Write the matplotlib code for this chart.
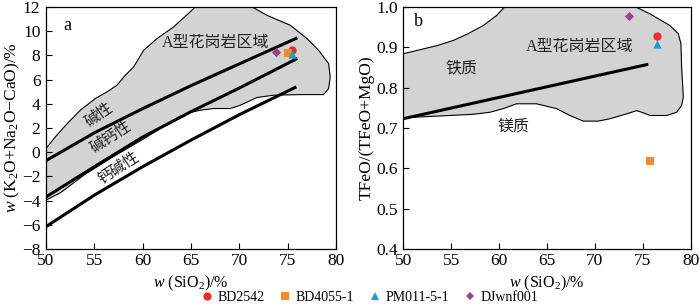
import matplotlib
matplotlib.use("Agg")
import matplotlib.pyplot as plt
from matplotlib.patches import Polygon
from matplotlib.lines import Line2D
import matplotlib.ticker as mticker

plt.rcParams['font.family'] = ['Liberation Serif', 'Noto Sans CJK SC']
plt.rcParams['mathtext.fontset'] = 'custom'
plt.rcParams['mathtext.rm'] = 'Liberation Serif'
plt.rcParams['mathtext.it'] = 'Liberation Serif:italic'
plt.rcParams['axes.unicode_minus'] = True

# ---- data ----
samples = ['BD2542', 'BD4055-1', 'PM011-5-1', 'DJwnf001']
colors = ['#e8312b', '#f28a2e', '#1d9bd8', '#9c4488']
markers = ['o', 's', '^', 'D']

# panel a
sio2_a = [75.5, 75.03, 75.5, 73.79]
mali_a = [8.42, 8.23, 8.15, 8.28]
# panel b
sio2_b = [76.51, 75.76, 76.51, 73.59]
fe_b = [0.928, 0.617, 0.909, 0.978]

# A-type granite field (panel a)
fieldA_x = [50, 50.97, 52.2, 53.55, 55.1, 56.3, 57.34, 58.2, 59.07, 60.1, 61.48, 63.2,
            64.9, 65.97, 70.45, 72.86, 75.28, 77.0, 78.2, 79.24, 79.4, 79.24, 78.7,
            76.3, 73.55, 71.83, 70.1, 69.07, 67.34, 65.97, 64.76, 63.6, 62.0,
            60.0, 57.0, 54.0, 51.5, 50]
fieldA_y = [0.31, 1.27, 2.37, 3.47, 4.43, 4.98, 5.53, 6.36, 7.05, 8.42, 9.39, 10.35,
            11.59, 12.4, 12.4, 11.31, 10.49, 9.39, 8.42, 7.32, 6.22, 5.26, 4.76,
            4.76, 4.71, 4.52, 3.88, 3.61, 3.61, 3.47, 3.25, 2.85, 2.05,
            1.05, -0.35, -1.85, -3.35, -3.96]

# MALI boundary curves
line1_x = [50, 55, 60, 65, 70, 76]
line1_y = [-0.7, 1.6, 3.6, 5.5, 7.3, 9.45]
line2_x = [50, 55, 60, 65, 70, 76]
line2_y = [-3.7, -1.2, 1.25, 3.35, 5.3, 7.75]
line3_x = [50, 55, 60, 65, 70, 75.9]
line3_y = [-6.15, -3.55, -1.2, 1.0, 3.1, 5.4]

# A-type granite field (panel b)
fieldB_x = [50, 51.39, 53.65, 55.22, 56.79, 58.35, 59.75, 60.79, 73.84, 75.76, 77.84,
            78.71, 78.99, 79.06, 79.24, 79.06, 78.54, 77.5, 75.76, 74.89, 74.36, 73.32,
            71.58, 70.36, 68.8, 67.4, 66.01, 63.92, 61.83, 60.44, 59.05, 57.31, 54.87,
            51.39, 50]
fieldB_y = [0.884, 0.892, 0.905, 0.917, 0.934, 0.954, 0.979, 1.005, 1.005, 0.983, 0.954,
            0.934, 0.909, 0.851, 0.777, 0.756, 0.739, 0.731, 0.731, 0.739, 0.743, 0.735,
            0.723, 0.717, 0.717, 0.731, 0.748, 0.760, 0.760, 0.748, 0.739, 0.734, 0.731,
            0.727, 0.725]
lineB_x = [50, 75.58]
lineB_y = [0.723, 0.858]

fig = plt.figure(figsize=(7.0, 3.08), dpi=100)
axa = fig.add_axes([0.0657, 0.1916, 0.4143, 0.7857])
axb = fig.add_axes([0.576, 0.1916, 0.4106, 0.7857])

gray = '#d3d3d3'
cjk = ['Liberation Serif', 'Noto Sans CJK SC']
tcol = '#222222'

# ---- panel a ----
axa.add_patch(Polygon(list(zip(fieldA_x, fieldA_y)), closed=True, facecolor=gray,
                      edgecolor='black', lw=0.8, zorder=1))
for lx, ly in [(line1_x, line1_y), (line2_x, line2_y), (line3_x, line3_y)]:
    axa.plot(lx, ly, color='black', lw=2.2, zorder=2, solid_capstyle='butt')
for x, y, c, m in zip(sio2_a, mali_a, colors, markers):
    axa.scatter([x], [y], color=c, marker=m, s=36 if m != 'D' else 22, zorder=4,
                linewidths=0)
axa.set_xlim(50, 80)
axa.set_ylim(-8, 12)
axa.set_xticks([50, 55, 60, 65, 70, 75, 80])
axa.set_yticks(list(range(-8, 13, 2)))
axa.text(52.2, 10.5, 'a', fontsize=13, ha='center', va='center')
axa.text(67.5, 9.0, 'A型花岗岩区域', fontsize=11.5, ha='center', va='center',
         family=cjk, color=tcol)
axa.text(55.5, 3.1, '碱性', fontsize=11, rotation=35, ha='center', va='center',
         family=cjk, color=tcol)
axa.text(56.7, 1.2, '碱钙性', fontsize=11, rotation=33, ha='center', va='center',
         family=cjk, color=tcol)
axa.text(57.5, -1.3, '钙碱性', fontsize=11, rotation=33, ha='center', va='center',
         family=cjk, color=tcol)
axa.set_xlabel(r'$w$ (SiO$_2$)/%', fontsize=11.5, labelpad=3)
axa.set_ylabel(r'$w$ (K$_2$O+Na$_2$O$-$CaO)/%', fontsize=12.5, labelpad=0)

# ---- panel b ----
axb.add_patch(Polygon(list(zip(fieldB_x, fieldB_y)), closed=True, facecolor=gray,
                      edgecolor='black', lw=0.8, zorder=1))
axb.plot(lineB_x, lineB_y, color='black', lw=2.2, zorder=2, solid_capstyle='butt')
for x, y, c, m in zip(sio2_b, fe_b, colors, markers):
    axb.scatter([x], [y], color=c, marker=m, s=36 if m != 'D' else 22, zorder=4,
                linewidths=0)
axb.set_xlim(50, 80)
axb.set_ylim(0.4, 1.0)
axb.set_xticks([50, 55, 60, 65, 70, 75, 80])
axb.set_yticks([0.4, 0.5, 0.6, 0.7, 0.8, 0.9, 1.0])
axb.yaxis.set_major_formatter(mticker.FormatStrFormatter('%.1f'))
axb.text(51.6, 0.965, 'b', fontsize=13, ha='center', va='center')
axb.text(68.4, 0.90, 'A型花岗岩区域', fontsize=11.5, ha='center', va='center',
         family=cjk, color=tcol)
axb.text(56.1, 0.847, '铁质', fontsize=11.5, ha='center', va='center', family=cjk,
         color=tcol)
axb.text(61.5, 0.704, '镁质', fontsize=11.5, ha='center', va='center', family=cjk,
         color=tcol)
axb.set_xlabel(r'$w$ (SiO$_2$)/%', fontsize=11.5, labelpad=3)
axb.set_ylabel('TFeO/(TFeO+MgO)', fontsize=12.5, labelpad=1)

for ax in (axa, axb):
    ax.tick_params(direction='in', length=4, width=0.8, labelsize=12.5,
                   top=False, right=False)
    ax.tick_params(axis='x', pad=3)
    ax.tick_params(axis='y', pad=4)
    for s in ax.spines.values():
        s.set_linewidth(0.9)

handles = [Line2D([], [], ls='none', marker=m, color=c, markersize=6 if m != 'D' else 4.5,
                  markeredgewidth=0) for m, c in zip(markers, colors)]
fig.legend(handles, samples, loc='center', bbox_to_anchor=(0.528, 0.034), ncol=4,
           frameon=False, fontsize=10, handlelength=0.8, handletextpad=0.35,
           columnspacing=1.1, borderpad=0)

fig.savefig('out.png', dpi=100)
